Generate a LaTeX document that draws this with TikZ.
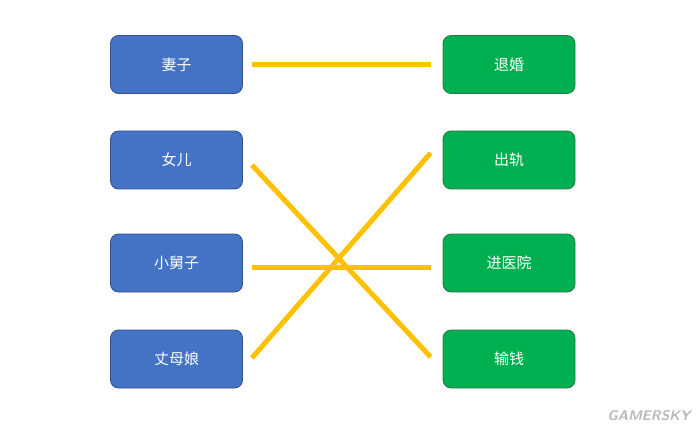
\documentclass[tikz,border=0pt]{standalone}
\usepackage{fontspec}
\setmainfont{Noto Sans CJK SC}
\usepackage{tikz}
\usetikzlibrary{positioning}

\definecolor{boxblue}{HTML}{4472C4}
\definecolor{lineblue}{HTML}{2F528F}
\definecolor{boxgreen}{HTML}{00B050}
\definecolor{linegreen}{HTML}{2A7A4A}
\definecolor{linkgold}{HTML}{FFC000}

\tikzset{
    person/.style={draw=lineblue, fill=boxblue, rounded corners=8pt, line width=0.8pt,
        minimum width=132pt, minimum height=58pt, text=white, font=\fontsize{15}{18}\selectfont},
    result/.style={person, draw=linegreen, fill=boxgreen},
    link/.style={linkgold, line width=5pt}
}

\begin{document}
\begin{tikzpicture}[x=1pt,y=-1pt]
    \useasboundingbox (0,0) rectangle (700,430);

    % Left column
    \node[person] (wife) at (176.5,64.5) {妻子};
    \node[person] (daughter) at (176.5,160) {女儿};
    \node[person] (brother) at (176.5,263) {小舅子};
    \node[person] (mother) at (176.5,359) {丈母娘};

    % Right column
    \node[result] (divorce) at (509,64.5) {退婚};
    \node[result] (cheat) at (509,160) {出轨};
    \node[result] (hospital) at (509,263) {进医院};
    \node[result] (lose) at (509,359) {输钱};

    % Links
    \draw[link] ([xshift=9pt]wife.east) -- ([xshift=-12pt]divorce.west);
    \draw[link] ([xshift=9pt,yshift=-4pt]brother.east) -- ([xshift=-12pt,yshift=-4pt]hospital.west);
    \draw[link] ([xshift=9pt,yshift=-5pt]daughter.east) -- ([xshift=-12pt,yshift=2pt]lose.west);
    \draw[link] ([xshift=9pt,yshift=1pt]mother.east) -- ([xshift=-12pt,yshift=7pt]cheat.west);

    \node[text=gray!55, font=\sffamily\bfseries\itshape\fontsize{14}{15}\selectfont] (mark) at (649,416) {GAMERSKY};
\end{tikzpicture}
\end{document}
